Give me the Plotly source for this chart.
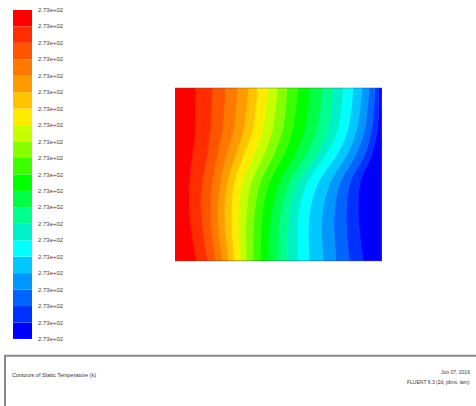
import plotly.graph_objects as go

# ---------------- data ----------------
cavity_width = 207
cavity_height = 176
row_heights = [0, 47, 80, 107, 132, 176]          # heights (from bottom) of the sampled rows

# x-positions of the 19 isotherms (band boundaries), one list per sampled row, left -> right
iso_row_0   = [21, 32, 40, 47, 53, 59, 65, 71, 78, 85, 93, 103, 113, 123, 134, 148, 161, 174, 188]
iso_row_47  = [14, 26, 35, 42, 49, 56, 63, 71, 79, 87, 96, 105, 114, 123, 134, 147, 159, 171, 183]
iso_row_80  = [14, 27, 37, 45, 52, 59, 67, 76, 85, 94, 104, 114, 123, 132, 143, 155, 165, 175, 185]
iso_row_107 = [17, 32, 42, 51, 60, 68, 78, 88, 98, 108, 119, 130, 141, 150, 161, 171, 180, 189, 196]
iso_row_132 = [20, 35, 47, 58, 68, 77, 87, 97, 107, 117, 129, 141, 152, 162, 172, 181, 189, 196, 202]
iso_row_176 = [20, 37, 50, 62, 73, 82, 92, 102, 112, 123, 135, 147, 158, 168, 178, 187, 194, 200, 204]
iso_rows = [iso_row_0, iso_row_47, iso_row_80, iso_row_107, iso_row_132, iso_row_176]

# band colours, hottest (left / top of legend) to coldest
band_colors = [
    "rgb(255,0,0)", "rgb(255,45,0)", "rgb(255,85,0)", "rgb(255,120,0)", "rgb(255,155,0)",
    "rgb(255,195,0)", "rgb(255,235,0)", "rgb(200,255,0)", "rgb(135,255,0)", "rgb(60,255,0)",
    "rgb(0,255,0)", "rgb(0,255,70)", "rgb(0,255,140)", "rgb(0,240,200)", "rgb(0,255,255)",
    "rgb(0,200,255)", "rgb(0,150,255)", "rgb(0,100,255)", "rgb(0,50,255)", "rgb(0,0,255)",
]
legend_labels = ["2.73e+02"] * 21
title_text = "Contours of Static Temperature (k)"
date_text = "Jun 07, 2016"
solver_text = "FLUENT 6.3 (2d, pbns, lam)"

# ---------------- figure ----------------
fig = go.Figure()

n_rows = len(row_heights)
curves = [[0] * n_rows]
for k in range(len(iso_row_0)):
    curves.append([row[k] for row in iso_rows])
curves.append([cavity_width] * n_rows)

# left wall (no fill)
fig.add_trace(go.Scatter(x=curves[0], y=row_heights, mode="lines",
                         line=dict(width=0), showlegend=False, hoverinfo="skip"))
for i in range(1, len(curves)):
    col = band_colors[i - 1]
    fig.add_trace(go.Scatter(
        x=curves[i], y=row_heights, mode="lines",
        line=dict(width=1, color=col, shape="spline"),
        fill="tonextx", fillcolor=col, showlegend=False, hoverinfo="skip"))

# colour legend bar (bottom = coldest)
n_bands = len(band_colors)
fig.add_trace(go.Bar(
    x=[0] * n_bands, y=[1] * n_bands, base=list(range(n_bands)),
    marker=dict(color=band_colors[::-1], line=dict(width=0)),
    width=1, xaxis="x2", yaxis="y2", showlegend=False, hoverinfo="skip"))

W, H = 476, 406
def px(x): return x / W
def py(y): return 1 - y / H

FONT = "Liberation Sans Narrow, Liberation Sans, Arial"

fig.update_layout(
    width=W, height=H, margin=dict(l=0, r=0, t=0, b=0),
    paper_bgcolor="white", plot_bgcolor="white",
    barmode="overlay",
    xaxis=dict(domain=[px(175), px(382)], range=[0, cavity_width], visible=False),
    yaxis=dict(domain=[py(262), py(86)], range=[0, cavity_height], visible=False),
    xaxis2=dict(domain=[px(13), px(32)], range=[-0.5, 0.5], visible=False, anchor="y2"),
    yaxis2=dict(domain=[py(341), py(7)], range=[0, n_bands], anchor="x2", side="right",
                tickvals=list(range(n_bands + 1)), ticktext=legend_labels,
                showgrid=False, zeroline=False, showline=False, ticks="",
                ticklabelstandoff=5,
                tickfont=dict(family=FONT, size=6, color="#444")),
    shapes=[
        dict(type="rect", xref="x", yref="y", x0=0, x1=cavity_width, y0=0, y1=cavity_height,
             line=dict(color="#555", width=1)),
        dict(type="rect", xref="paper", yref="paper", x0=px(5), x1=1.02, y0=-0.02, y1=py(358),
             line=dict(color="#888", width=2)),
    ],
    annotations=[
        dict(text=title_text, xref="paper", yref="paper", x=px(10), y=py(378),
             xanchor="left", yanchor="middle", showarrow=False,
             font=dict(family=FONT, size=5.5, color="#333")),
        dict(text=date_text, xref="paper", yref="paper", x=px(472), y=py(375),
             xanchor="right", yanchor="middle", showarrow=False,
             font=dict(family=FONT, size=5, color="#333")),
        dict(text=solver_text, xref="paper", yref="paper", x=px(472), y=py(385),
             xanchor="right", yanchor="middle", showarrow=False,
             font=dict(family=FONT, size=5, color="#333")),
    ],
)

fig.write_html("out.html",
               config={"displayModeBar": False},
               post_script="document.body.style.margin='0';document.body.style.overflow='hidden';")
